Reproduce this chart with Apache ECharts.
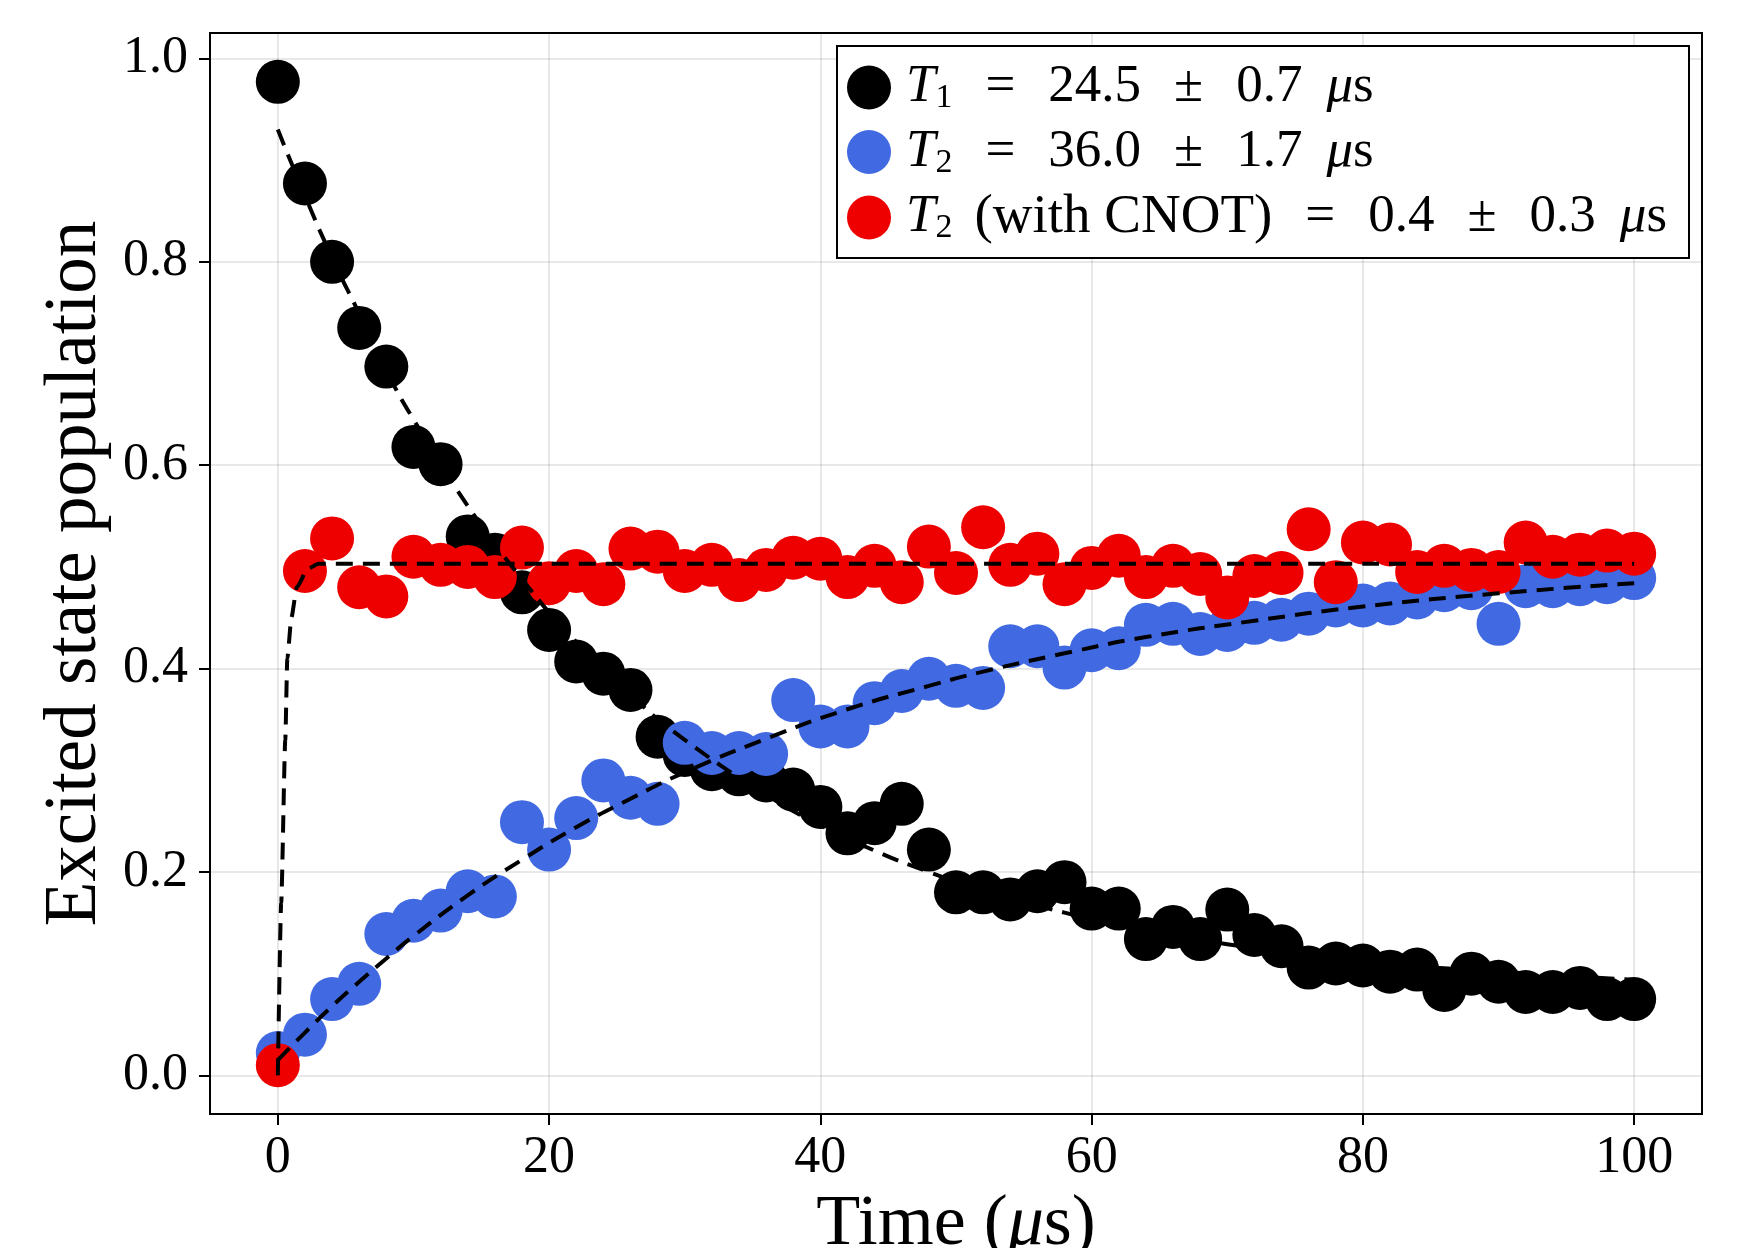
<!DOCTYPE html>
<html>
<head>
<meta charset="utf-8">
<script src="https://cdn.jsdelivr.net/npm/echarts@6/dist/echarts.min.js"></script>
<style>
html,body{margin:0;padding:0;background:#fff;}
#chart{width:1757px;height:1248px;}
</style>
</head>
<body>
<div id="chart"></div>
<script>
// ---- data ----
const timeValues = [0,2,4,6,8,10,12,14,16,18,20,22,24,26,28,30,32,34,36,38,40,42,44,46,48,50,52,54,56,58,60,62,64,66,68,70,72,74,76,78,80,82,84,86,88,90,92,94,96,98,100];
const t1Values = [0.977,0.877,0.800,0.735,0.697,0.618,0.601,0.530,0.512,0.475,0.438,0.407,0.395,0.379,0.333,0.315,0.301,0.296,0.290,0.281,0.264,0.238,0.248,0.267,0.222,0.180,0.180,0.173,0.181,0.190,0.164,0.164,0.134,0.146,0.134,0.163,0.138,0.127,0.106,0.110,0.108,0.102,0.104,0.084,0.100,0.092,0.082,0.082,0.086,0.075,0.075];
const t2Values = [0.022,0.040,0.075,0.090,0.139,0.152,0.162,0.181,0.176,0.249,0.222,0.253,0.290,0.273,0.267,0.327,0.317,0.317,0.316,0.369,0.343,0.343,0.366,0.378,0.390,0.383,0.381,0.422,0.422,0.401,0.418,0.420,0.443,0.444,0.434,0.438,0.445,0.448,0.454,0.462,0.462,0.464,0.470,0.477,0.479,0.444,0.481,0.481,0.483,0.485,0.489];
const t2cnotValues = [0.010,0.496,0.528,0.480,0.471,0.510,0.502,0.500,0.490,0.519,0.484,0.496,0.483,0.518,0.515,0.496,0.502,0.487,0.497,0.509,0.508,0.490,0.501,0.485,0.520,0.494,0.539,0.502,0.513,0.483,0.499,0.511,0.490,0.501,0.493,0.470,0.491,0.494,0.537,0.485,0.524,0.522,0.495,0.501,0.497,0.495,0.524,0.510,0.512,0.516,0.513];

// dashed fit curves
const fitT1X = [0,2,4,6,8,10,14,18,22,26,30,36,40,44,48,52,58,64,70,80,90,100];
const fitT1Y = [0.930,0.865,0.804,0.749,0.693,0.645,0.560,0.488,0.426,0.374,0.330,0.276,0.246,0.221,0.200,0.182,0.160,0.142,0.129,0.112,0.102,0.094];
const fitT2X = [0,2,4,6,8,10,14,18,22,26,30,36,42,48,52,58,64,72,80,90,100];
const fitT2Y = [0.015,0.042,0.068,0.092,0.115,0.137,0.177,0.212,0.244,0.272,0.298,0.331,0.360,0.383,0.397,0.415,0.431,0.447,0.461,0.474,0.484];
const fitCnotX = [0,0.25,0.55,0.7,1.0,1.4,2.2,3.0,100];
const fitCnotY = [0.0,0.17,0.33,0.41,0.45,0.48,0.498,0.503,0.503];

const xTicks = [0,20,40,60,80,100];
const yTicks = [0,0.2,0.4,0.6,0.8,1.0];

const seriesNames = ['T1','T2','T2cnot'];
const seriesColors = ['#000000','#4169e1','#ee0000'];
const legendTexts = {
  T1: '{it0|T}{sub|1}{op|=}{n|24.5}{op|±}{n|0.7}{mu|μ}{n|s}',
  T2: '{it0|T}{sub|2}{op|=}{n|36.0}{op|±}{n|1.7}{mu|μ}{n|s}',
  T2cnot: '{it0|T}{sub|2}{par|(with CNOT)}{op|=}{n|0.4}{op|±}{n|0.3}{mu|μ}{n|s}'
};

const FONT = '"Liberation Serif", "DejaVu Serif", serif';

function pairs(xs, ys){ return xs.map((x,i)=>[x, ys[i]]); }

const chart = echarts.init(document.getElementById('chart'), null, {renderer:'canvas'});

const scatterBase = {type:'scatter', symbol:'circle', symbolSize:44, z:2};
const fitBase = {type:'line', showSymbol:false, smooth:0.5, z:3,
  lineStyle:{color:'#000', width:4, type:[17,10], cap:'butt'}, silent:true};

const option = {
  backgroundColor:'#ffffff',
  animation:false,
  grid:{left:210, right:55, top:33, bottom:134, show:true, borderColor:'#000', borderWidth:2,
    backgroundColor:'transparent', containLabel:false, outerBoundsMode:'none'},
  xAxis:{
    type:'value', min:-5, max:105,
    name:'{n|Time (}{it|μ}{n|s)}', nameLocation:'middle', nameGap:62,
    nameTextStyle:{fontFamily:FONT, fontSize:72, color:'#000',
      rich:{n:{fontFamily:FONT, fontSize:72, color:'#000'}, it:{fontFamily:FONT, fontSize:72, fontStyle:'italic', color:'#000'}}},
    axisLine:{show:true, onZero:false, lineStyle:{color:'#000', width:2}},
    axisTick:{show:true, inside:false, length:11, lineStyle:{color:'#000', width:2}, customValues:xTicks},
    axisLabel:{show:true, margin:18, fontFamily:FONT, fontSize:52, color:'#000', customValues:xTicks,
      formatter:v=>String(Math.round(v))},
    splitLine:{show:true, lineStyle:{color:'rgba(0,0,0,0.12)', width:1.5}}
  },
  yAxis:{
    type:'value', min:-0.038, max:1.025,
    name:'Excited state population', nameLocation:'middle', nameGap:94, nameRotate:90,
    nameTextStyle:{fontFamily:FONT, fontSize:73, color:'#000'},
    axisLine:{show:true, onZero:false, lineStyle:{color:'#000', width:2}},
    axisTick:{show:true, inside:false, length:11, lineStyle:{color:'#000', width:2}, customValues:yTicks},
    axisLabel:{show:true, margin:22, fontFamily:FONT, fontSize:52, color:'#000', customValues:yTicks,
      formatter:v=>v.toFixed(1)},
    splitLine:{show:true, lineStyle:{color:'rgba(0,0,0,0.12)', width:1.5}}
  },
  legend:{
    data:seriesNames, orient:'vertical', left:847, top:61, padding:0, itemGap:10,
    itemWidth:44, itemHeight:44, icon:'circle', selectedMode:false, z:10,
    formatter:name=>legendTexts[name],
    textStyle:{fontFamily:FONT, fontSize:53, color:'#000',
      rich:{
        it0:{fontFamily:FONT, fontSize:53, fontStyle:'italic', color:'#000', lineHeight:56, padding:[0,0,0,10]},
        sub:{fontFamily:FONT, fontSize:34, color:'#000', lineHeight:34, verticalAlign:'bottom'},
        op:{fontFamily:FONT, fontSize:53, color:'#000', lineHeight:56, padding:[0,33,0,33]},
        n:{fontFamily:FONT, fontSize:53, color:'#000', lineHeight:56},
        par:{fontFamily:FONT, fontSize:55, color:'#000', lineHeight:56, padding:[0,0,0,22]},
        mu:{fontFamily:FONT, fontSize:53, fontStyle:'italic', color:'#000', lineHeight:56, padding:[0,0,0,24]}
      }}
  },
  graphic:[{type:'rect', z:5, shape:{x:837, y:46, width:852, height:212},
    style:{fill:'#fff', stroke:'#000', lineWidth:2}}],
  series:[
    Object.assign({}, scatterBase, {name:'T1', itemStyle:{color:seriesColors[0], opacity:1}, data:pairs(timeValues,t1Values)}),
    Object.assign({}, fitBase, {name:'fitT1', data:pairs(fitT1X,fitT1Y)}),
    Object.assign({}, scatterBase, {name:'T2', itemStyle:{color:seriesColors[1], opacity:1}, data:pairs(timeValues,t2Values)}),
    Object.assign({}, fitBase, {name:'fitT2', data:pairs(fitT2X,fitT2Y)}),
    Object.assign({}, scatterBase, {name:'T2cnot', itemStyle:{color:seriesColors[2], opacity:1}, data:pairs(timeValues,t2cnotValues)}),
    Object.assign({}, fitBase, {name:'fitCnot', smooth:0.2, smoothMonotone:'x', data:pairs(fitCnotX,fitCnotY)})
  ]
};
chart.setOption(option);
</script>
</body>
</html>
